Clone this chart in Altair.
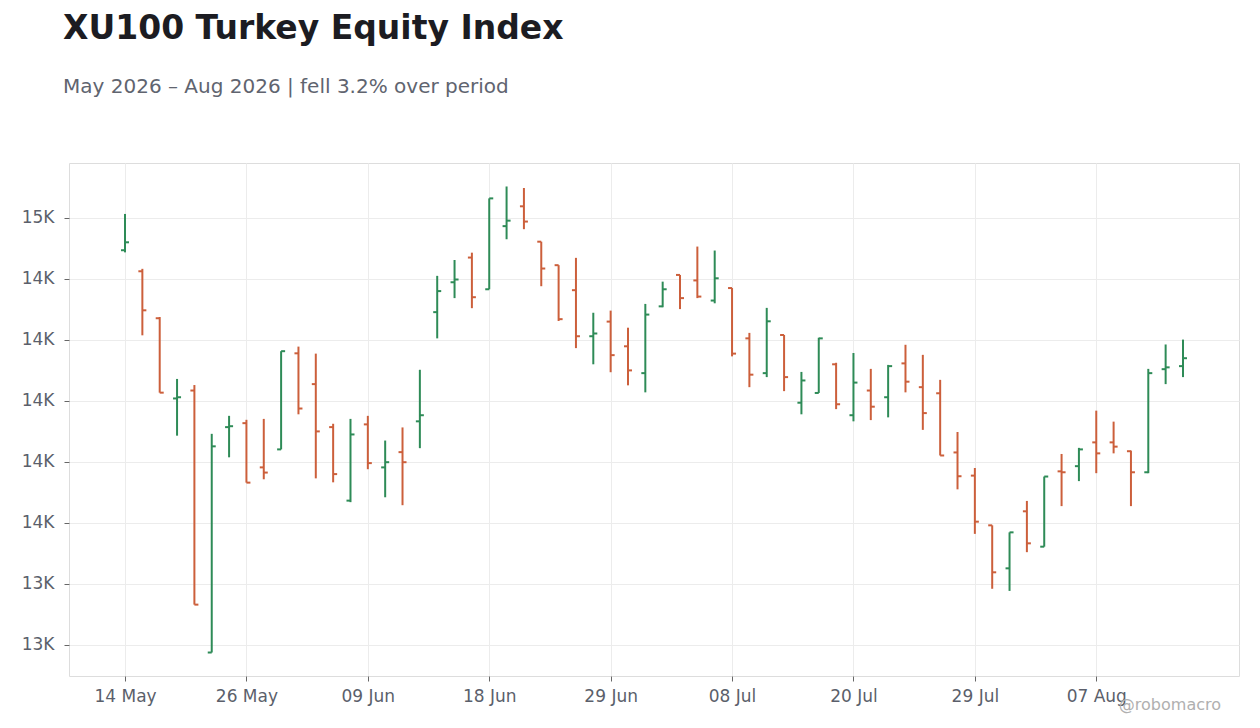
import altair as alt
import pandas as pd

dates = [
    "2026-05-14", "2026-05-15", "2026-05-18", "2026-05-19", "2026-05-20", "2026-05-21", "2026-05-22",
    "2026-05-26", "2026-05-27", "2026-05-28", "2026-06-01", "2026-06-02", "2026-06-04", "2026-06-05",
    "2026-06-09", "2026-06-10", "2026-06-11", "2026-06-12", "2026-06-15", "2026-06-16", "2026-06-17",
    "2026-06-18", "2026-06-19", "2026-06-22", "2026-06-23", "2026-06-24", "2026-06-25", "2026-06-26",
    "2026-06-29", "2026-06-30", "2026-07-01", "2026-07-02", "2026-07-03", "2026-07-06", "2026-07-07",
    "2026-07-08", "2026-07-09", "2026-07-10", "2026-07-13", "2026-07-14", "2026-07-16", "2026-07-17",
    "2026-07-20", "2026-07-21", "2026-07-22", "2026-07-23", "2026-07-24", "2026-07-27", "2026-07-28",
    "2026-07-29", "2026-07-30", "2026-07-31", "2026-08-03", "2026-08-04", "2026-08-05", "2026-08-06",
    "2026-08-07", "2026-08-10", "2026-08-11", "2026-08-12", "2026-08-13", "2026-08-14",
]
opens = [
    14894, 14825, 14671, 14408, 14434, 13575, 14314, 14327, 14182, 14241,
    14556, 14455, 14314, 14073, 14323, 14182, 14232, 14333, 14691, 14789,
    14870, 14766, 14973, 15038, 14922, 14845, 14763, 14612, 14660, 14579,
    14491, 14710, 14813, 14795, 14729, 14770, 14605, 14491, 14616, 14394,
    14426, 14520, 14353, 14434, 14412, 14523, 14445, 14425, 14231, 14155,
    13992, 13851, 14038, 13922, 14169, 14186, 14264, 14264, 14235, 14166,
    14504, 14514,
]
highs = [
    15013, 14833, 14675, 14472, 14452, 14292, 14351, 14338, 14341, 14563,
    14578, 14555, 14325, 14341, 14351, 14270, 14313, 14502, 14810, 14862,
    14886, 15064, 15103, 15098, 14922, 14845, 14869, 14689, 14696, 14640,
    14718, 14791, 14813, 14906, 14893, 14770, 14623, 14705, 14616, 14495,
    14607, 14525, 14557, 14505, 14518, 14584, 14551, 14469, 14298, 14180,
    13992, 13969, 14072, 14152, 14226, 14246, 14368, 14332, 14237, 14505,
    14585, 14601,
]
lows = [
    14887, 14615, 14427, 14286, 13732, 13575, 14215, 14132, 14143, 14241,
    14356, 14146, 14133, 14068, 14176, 14084, 14058, 14245, 14605, 14737,
    14704, 14766, 14930, 14963, 14776, 14662, 14573, 14520, 14494, 14451,
    14428, 14707, 14701, 14737, 14720, 14546, 14445, 14478, 14432, 14356,
    14426, 14373, 14333, 14337, 14346, 14428, 14305, 14221, 14110, 13964,
    13784, 13777, 13904, 13922, 14055, 14137, 14163, 14228, 14055, 14163,
    14455, 14478,
]
closes = [
    14920, 14697, 14427, 14412, 13732, 14251, 14317, 14132, 14165, 14563,
    14375, 14300, 14160, 14290, 14196, 14199, 14199, 14353, 14760, 14798,
    14740, 15064, 14991, 14988, 14834, 14668, 14612, 14621, 14550, 14500,
    14683, 14766, 14737, 14742, 14802, 14555, 14486, 14661, 14478, 14467,
    14605, 14389, 14460, 14381, 14514, 14463, 14360, 14221, 14153, 14004,
    13838, 13969, 13933, 14152, 14166, 14241, 14228, 14250, 14166, 14491,
    14510, 14540,
]
y_ticks = [13600, 13800, 14000, 14200, 14400, 14600, 14800, 15000]

UP = "#2e8b57"
DOWN = "#cc5f3b"
FONT = "DejaVu Sans"

labels = [pd.Timestamp(d).strftime("%d %b") for d in dates]
n = len(dates)
df = pd.DataFrame({
    "idx": list(range(n)),
    "date": dates,
    "label": labels,
    "open": opens,
    "high": highs,
    "low": lows,
    "close": closes,
})
df["dir"] = ["up" if c >= o else "down" for o, c in zip(opens, closes)]
tick_idx = list(range(0, n, 7))
label_array = "[" + ",".join("'" + l + "'" for l in labels) + "]"

pad = 3.23
x_enc = alt.X(
    "idx:Q",
    scale=alt.Scale(domain=[-pad, n - 1 + pad], nice=False, zero=False),
    axis=alt.Axis(
        values=tick_idx, title=None, labelAngle=0, grid=True,
        tickSize=5, labelPadding=7, domain=False,
        labelExpr=label_array + "[datum.value]",
    ),
)
y_scale = alt.Scale(domain=[13498, 15180], nice=False, zero=False)
color_enc = alt.Color(
    "dir:N", scale=alt.Scale(domain=["up", "down"], range=[UP, DOWN]), legend=None
)

base = alt.Chart(df)

wick = base.mark_rule(strokeWidth=2).encode(
    x=x_enc,
    y=alt.Y(
        "low:Q", scale=y_scale,
        axis=alt.Axis(
            values=y_ticks, title=None, tickSize=5, labelPadding=10, domain=False,
            labelExpr="floor(datum.value / 1000) + 'K'",
        ),
    ),
    y2="high:Q",
    color=color_enc,
)
open_tick = base.mark_tick(
    orient="horizontal", size=4, thickness=2, xOffset=-2, opacity=1
).encode(x=x_enc, y=alt.Y("open:Q", scale=y_scale), color=color_enc)
close_tick = base.mark_tick(
    orient="horizontal", size=4, thickness=2, xOffset=2, opacity=1
).encode(x=x_enc, y=alt.Y("close:Q", scale=y_scale), color=color_enc)
credit = alt.Chart(pd.DataFrame({"t": ["@robomacro"]})).mark_text(
    align="right", baseline="alphabetic", fontSize=16, font=FONT, color="#b0b0b0"
).encode(text="t:N", x=alt.value(1152), y=alt.value(547))

chart = alt.layer(wick, open_tick, close_tick, credit).properties(
    width=1170,
    height=513,
    padding={"left": 13, "top": 5, "right": 5, "bottom": 5},
    title=alt.TitleParams(
        text="XU100 Turkey Equity Index",
        subtitle="May 2026 \u2013 Aug 2026 | fell 3.2% over period",
        anchor="start", frame="group", dx=-6,
        font=FONT, fontSize=33, fontWeight="bold", color="#1c1c22",
        subtitleFont=FONT, subtitleFontSize=20, subtitleColor="#60646f",
        subtitlePadding=31, offset=66,
    ),
).configure_view(
    stroke="#dddddd", strokeWidth=1
).configure_axis(
    labelFont=FONT, labelFontSize=17, labelColor="#5b5f6b",
    tickColor="#666666", gridColor="#ececec", gridWidth=1,
)

chart.save("out.html", embed_options={"renderer": "svg", "actions": False})
